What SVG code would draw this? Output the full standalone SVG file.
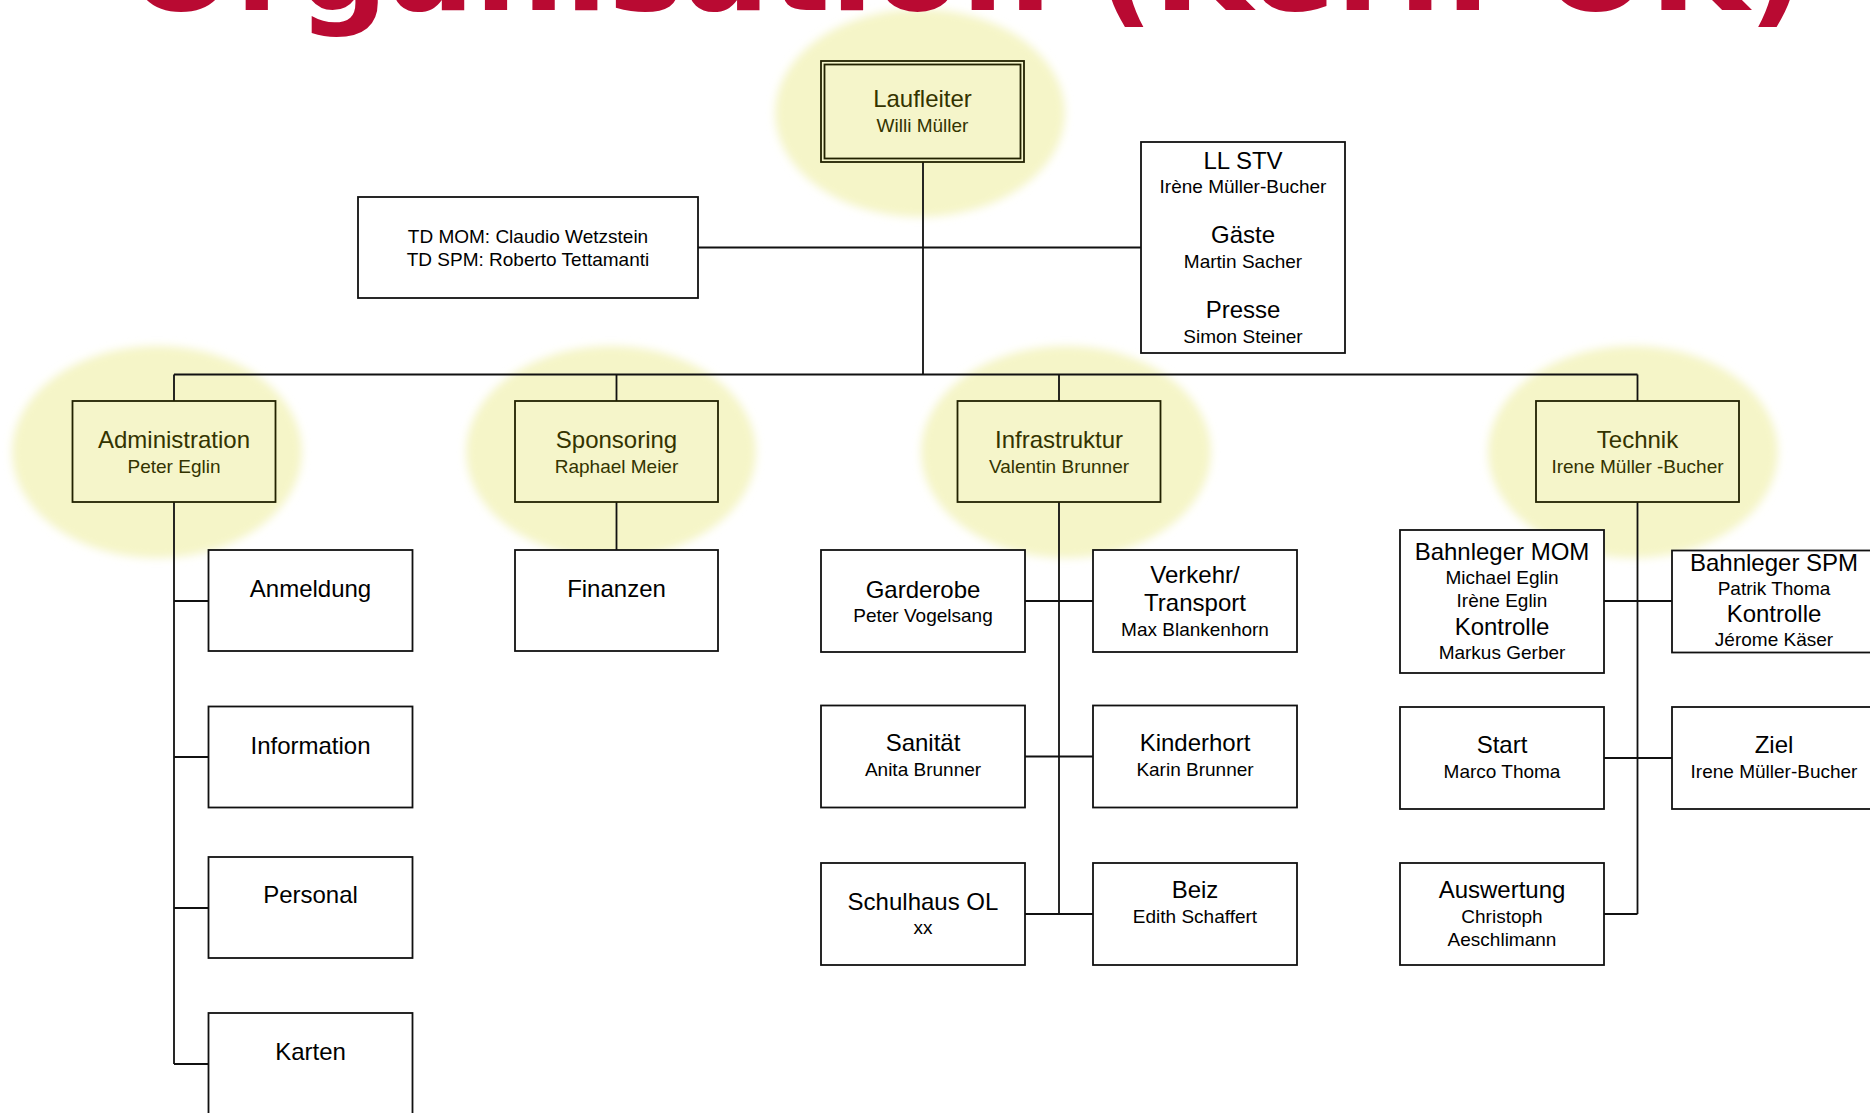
<svg xmlns="http://www.w3.org/2000/svg" width="1870" height="1113" viewBox="0 0 1870 1113">
<defs>
<style>
.halo{fill:#F5F5C8;filter:url(#soft)}
.ybox{fill:#F5F5CA;stroke:#222200;stroke-width:1.8}
.wbox{fill:#FFFFFF;stroke:#111111;stroke-width:1.8}
.ln{stroke:#111111;stroke-width:1.8;fill:none}
text{font-family:"Liberation Sans",Arial,sans-serif;text-anchor:middle}
.yt{font-size:24px;fill:#333300}
.ys{font-size:19px;fill:#333300}
.bt{font-size:24px;fill:#000000}
.bs{font-size:19px;fill:#000000}
.title{font-family:"DejaVu Sans",Verdana,sans-serif;font-weight:bold;font-size:127px;fill:#B90A32;text-anchor:start}
</style>
<filter id="soft" x="-20%" y="-20%" width="140%" height="140%"><feGaussianBlur stdDeviation="4"/></filter>
</defs>
<rect width="1870" height="1113" fill="#FFFFFF"/>
<g id="halos">
<ellipse class="halo" cx="920" cy="113" rx="145" ry="104"/>
<ellipse class="halo" cx="157" cy="452" rx="145" ry="106"/>
<ellipse class="halo" cx="611" cy="452" rx="145" ry="106"/>
<ellipse class="halo" cx="1066" cy="452" rx="145" ry="106"/>
<ellipse class="halo" cx="1633" cy="452" rx="145" ry="106"/>
</g>
<text id="title" class="title" x="127" y="10">Organisation (Kern-OK)</text>
<g id="connectors" class="ln">
<path d="M923 162 V374.5 M698 247.5 H1141"/>
<path d="M174 374.5 H1637.5 M174 374.5 V401 M616.5 374.5 V401 M1059 374.5 V401 M1637.5 374.5 V401"/>
<path d="M174 502 V1064 M174 601 H208.5 M174 757 H208.5 M174 908 H208.5 M174 1064 H208.5"/>
<path d="M616.5 502 V550"/>
<path d="M1059 502 V914 M1025 601 H1093 M1025 756.5 H1093 M1025 914 H1093"/>
<path d="M1637.5 502 V914 M1604 601 H1672 M1604 758 H1672 M1604 914 H1637.5"/>
</g>
<g id="laufleiter">
<rect class="ybox" x="821" y="61" width="203" height="101"/>
<rect class="ybox" x="824.5" y="64.5" width="196" height="94"/>
<text class="yt" x="922.5" y="107">Laufleiter</text>
<text class="ys" x="922.5" y="132">Willi Müller</text>
</g>
<g id="td">
<rect class="wbox" x="358" y="197" width="340" height="101"/>
<text class="bs" x="528" y="243">TD MOM: Claudio Wetzstein</text>
<text class="bs" x="528" y="266">TD SPM: Roberto Tettamanti</text>
</g>
<g id="llstv">
<rect class="wbox" x="1141" y="142" width="204" height="211"/>
<text class="bt" x="1243" y="168.5">LL STV</text>
<text class="bs" x="1243" y="192.5">Irène Müller-Bucher</text>
<text class="bt" x="1243" y="242.5">Gäste</text>
<text class="bs" x="1243" y="267.5">Martin Sacher</text>
<text class="bt" x="1243" y="317.5">Presse</text>
<text class="bs" x="1243" y="342.5">Simon Steiner</text>
</g>
<g id="administration">
<rect class="ybox" x="72.5" y="401" width="203" height="101"/>
<text class="yt" x="174" y="447.5">Administration</text>
<text class="ys" x="174" y="472.5">Peter Eglin</text>
</g>
<g id="sponsoring">
<rect class="ybox" x="515" y="401" width="203" height="101"/>
<text class="yt" x="616.5" y="447.5">Sponsoring</text>
<text class="ys" x="616.5" y="472.5">Raphael Meier</text>
</g>
<g id="infrastruktur">
<rect class="ybox" x="957.5" y="401" width="203" height="101"/>
<text class="yt" x="1059" y="447.5">Infrastruktur</text>
<text class="ys" x="1059" y="472.5">Valentin Brunner</text>
</g>
<g id="technik">
<rect class="ybox" x="1536" y="401" width="203" height="101"/>
<text class="yt" x="1637.5" y="447.5">Technik</text>
<text class="ys" x="1637.5" y="472.5">Irene Müller -Bucher</text>
</g>
<g id="anmeldung">
<rect class="wbox" x="208.5" y="550" width="204" height="101"/>
<text class="bt" x="310.5" y="597">Anmeldung</text>
</g>
<g id="information">
<rect class="wbox" x="208.5" y="706.5" width="204" height="101"/>
<text class="bt" x="310.5" y="753.5">Information</text>
</g>
<g id="personal">
<rect class="wbox" x="208.5" y="857" width="204" height="101"/>
<text class="bt" x="310.5" y="903">Personal</text>
</g>
<g id="karten">
<rect class="wbox" x="208.5" y="1013" width="204" height="101"/>
<text class="bt" x="310.5" y="1060">Karten</text>
</g>
<g id="finanzen">
<rect class="wbox" x="515" y="550" width="203" height="101"/>
<text class="bt" x="616.5" y="597">Finanzen</text>
</g>
<g id="garderobe">
<rect class="wbox" x="821" y="550" width="204" height="102"/>
<text class="bt" x="923" y="597.5">Garderobe</text>
<text class="bs" x="923" y="621.5">Peter Vogelsang</text>
</g>
<g id="verkehr">
<rect class="wbox" x="1093" y="550" width="204" height="102"/>
<text class="bt" x="1195" y="583">Verkehr/</text>
<text class="bt" x="1195" y="611">Transport</text>
<text class="bs" x="1195" y="636">Max Blankenhorn</text>
</g>
<g id="sanitaet">
<rect class="wbox" x="821" y="705.5" width="204" height="102"/>
<text class="bt" x="923" y="751">Sanität</text>
<text class="bs" x="923" y="776">Anita Brunner</text>
</g>
<g id="kinderhort">
<rect class="wbox" x="1093" y="705.5" width="204" height="102"/>
<text class="bt" x="1195" y="751">Kinderhort</text>
<text class="bs" x="1195" y="776">Karin Brunner</text>
</g>
<g id="schulhaus">
<rect class="wbox" x="821" y="863" width="204" height="102"/>
<text class="bt" x="923" y="910">Schulhaus OL</text>
<text class="bs" x="923" y="934">xx</text>
</g>
<g id="beiz">
<rect class="wbox" x="1093" y="863" width="204" height="102"/>
<text class="bt" x="1195" y="898">Beiz</text>
<text class="bs" x="1195" y="922.5">Edith Schaffert</text>
</g>
<g id="bahnleger-mom">
<rect class="wbox" x="1400" y="530" width="204" height="143"/>
<text class="bt" x="1502" y="559.5">Bahnleger MOM</text>
<text class="bs" x="1502" y="584">Michael Eglin</text>
<text class="bs" x="1502" y="607">Irène Eglin</text>
<text class="bt" x="1502" y="634.5">Kontrolle</text>
<text class="bs" x="1502" y="659">Markus Gerber</text>
</g>
<g id="bahnleger-spm">
<rect class="wbox" x="1672" y="550.5" width="204" height="102"/>
<text class="bt" x="1774" y="570.5">Bahnleger SPM</text>
<text class="bs" x="1774" y="595">Patrik Thoma</text>
<text class="bt" x="1774" y="622">Kontrolle</text>
<text class="bs" x="1774" y="646">Jérome Käser</text>
</g>
<g id="start">
<rect class="wbox" x="1400" y="707" width="204" height="102"/>
<text class="bt" x="1502" y="753">Start</text>
<text class="bs" x="1502" y="778">Marco Thoma</text>
</g>
<g id="ziel">
<rect class="wbox" x="1672" y="707" width="204" height="102"/>
<text class="bt" x="1774" y="753">Ziel</text>
<text class="bs" x="1774" y="778">Irene Müller-Bucher</text>
</g>
<g id="auswertung">
<rect class="wbox" x="1400" y="863" width="204" height="102"/>
<text class="bt" x="1502" y="898">Auswertung</text>
<text class="bs" x="1502" y="922.5">Christoph</text>
<text class="bs" x="1502" y="946">Aeschlimann</text>
</g>
</svg>
